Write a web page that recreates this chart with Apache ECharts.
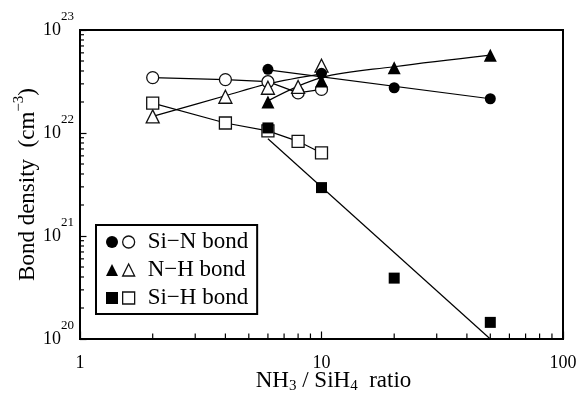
<!DOCTYPE html>
<html>
<head>
<meta charset="utf-8">
<script src="https://cdn.jsdelivr.net/npm/echarts@6/dist/echarts.min.js"></script>
<style>
  html, body { margin: 0; padding: 0; background: #fff; }
  #chart { width: 585px; height: 399px; }
</style>
</head>
<body>
<div id="chart"></div>
<script>
// NH3/SiH4 flow ratio for the two sample sets
const ratioOpen = [2, 4, 6, 8, 10];
const ratioFilled = [6, 10, 20, 50];

// Bond densities (cm^-3), open-symbol set
const siNOpen = [3.45e22, 3.3e22, 3.15e22, 2.45e22, 2.65e22];
const nHOpen = [1.45e22, 2.25e22, 2.75e22, 2.8e22, 4.5e22];
const siHOpen = [1.95e22, 1.25e22, 1.05e22, 8.3e21, 6.4e21];

// Bond densities (cm^-3), filled-symbol set
const siNFilled = [4.15e22, 3.8e22, 2.75e22, 2.15e22];
const nHFilled = [2.0e22, 3.2e22, 4.3e22, 5.7e22];
const siHFilled = [1.12e22, 2.95e21, 3.9e20, 1.45e20];

// Trend lines
const siNFitX = [6, 50];
const siNFitY = [4.1e22, 2.15e22];
const nHOpenFitX = [2, 4, 6, 10];
const nHOpenFitY = [1.45e22, 2.3e22, 3.0e22, 3.75e22];
const nHFitX = [6, 10, 20, 50];
const nHFitY = [2.05e22, 3.45e22, 4.4e22, 5.7e22];
const siHFitX = [6, 50];
const siHFitY = [8.8e21, 1.0e20];

// Legend labels
const bondNames = ['Si\u2212N bond', 'N\u2212H bond', 'Si\u2212H bond'];
const filledNames = ['Si\u2212N', 'N\u2212H', 'Si\u2212H'];

// Axis ranges and minor tick positions
const xRange = [1, 100];
const yRange = [1e20, 1e23];
const xMinorTicks = [2, 3, 4, 5, 6, 7, 8, 9, 20, 30, 40, 50, 60, 70, 80, 90];
const yMinorTicks = [];
[20, 21, 22].forEach(function (d) {
  for (let m = 2; m <= 9; m++) yMinorTicks.push(m * Math.pow(10, d));
});

const FONT = 'Liberation Serif';
const zip = (xs, ys) => xs.map((x, i) => [x, ys[i]]);

const openStyle = { color: '#fff', borderColor: '#111', borderWidth: 1.3, opacity: 1 };
const filledStyle = { color: '#000', opacity: 1 };

function trend(xs, ys, smooth) {
  return {
    type: 'line', data: zip(xs, ys), symbol: 'none', smooth: smooth || false,
    lineStyle: { color: '#000', width: 1.2 }, silent: true, z: 2
  };
}

// Minor ticks (2..9 of each decade) drawn inward from the axis
function tickSeries(data, horizontal, len) {
  return {
    type: 'custom', coordinateSystem: 'cartesian2d', clip: false, z: 5,
    data: data,
    renderItem: function (params, api) {
      const p = api.coord([api.value(0), api.value(1)]);
      return {
        type: 'line',
        shape: horizontal
          ? { x1: p[0], y1: p[1], x2: p[0] + len, y2: p[1] }
          : { x1: p[0], y1: p[1], x2: p[0], y2: p[1] - len },
        style: { stroke: '#000', lineWidth: 1.2 }
      };
    }
  };
}

const chart = echarts.init(document.getElementById('chart'), null, { renderer: 'canvas' });

chart.setOption({
  animation: false,
  backgroundColor: '#fff',
  textStyle: { fontFamily: FONT, color: '#000' },
  grid: {
    left: 80, right: 22, top: 30, bottom: 60, show: true,
    outerBoundsMode: 'none', containLabel: false,
    borderColor: '#000', borderWidth: 2, backgroundColor: 'transparent'
  },
  xAxis: {
    type: 'log', logBase: 10, min: xRange[0], max: xRange[1],
    axisLine: { show: true, lineStyle: { color: '#000', width: 2 } },
    splitLine: { show: false },
    axisTick: { show: true, inside: true, length: 7.5, lineStyle: { color: '#000', width: 1.2 } },
    axisLabel: { fontFamily: FONT, fontSize: 18, color: '#000', margin: 15 },
    name: 'NH{sub|3} / SiH{sub|4}  ratio',
    nameLocation: 'middle', nameGap: 28, nameMoveOverlap: false,
    nameTextStyle: {
      fontFamily: FONT, fontSize: 23, color: '#000', padding: [0, 0, 0, 24],
      rich: { sub: { fontFamily: FONT, fontSize: 15, color: '#000', padding: [12, 0, 0, 0] } }
    }
  },
  yAxis: {
    type: 'log', logBase: 10, min: yRange[0], max: yRange[1],
    axisLine: { show: true, lineStyle: { color: '#000', width: 2 } },
    splitLine: { show: false },
    axisTick: { show: true, inside: true, length: 6.5, lineStyle: { color: '#000', width: 1.2 } },
    axisLabel: {
      margin: 6,
      formatter: function (v) { return '{b|10}{e|' + Math.round(Math.log10(v)) + '}'; },
      rich: {
        b: { fontFamily: FONT, fontSize: 18, color: '#000' },
        e: { fontFamily: FONT, fontSize: 13, color: '#000', padding: [0, 0, 26, 0] }
      }
    },
    name: 'Bond density  (cm{sup|\u22123})',
    nameLocation: 'middle', nameGap: 37, nameMoveOverlap: false,
    nameTextStyle: {
      fontFamily: FONT, fontSize: 23, color: '#000',
      rich: { sup: { fontFamily: FONT, fontSize: 15, color: '#000', padding: [0, 0, 16, 0] } }
    }
  },
  legend: [
    {
      data: bondNames.map(function (n) { return { name: n, itemStyle: openStyle }; }),
      orient: 'vertical', left: 96, top: 225, padding: [5, 9, 4, 26],
      itemWidth: 12, itemHeight: 12, itemGap: 4,
      borderColor: '#000', borderWidth: 2, backgroundColor: '#fff',
      selectedMode: false,
      textStyle: { fontFamily: FONT, fontSize: 23, lineHeight: 24, color: '#000', padding: [0, 0, 0, 8] }
    },
    {
      data: filledNames.map(function (n) { return { name: n, itemStyle: filledStyle }; }),
      orient: 'vertical', left: 106, top: 230, padding: 0,
      itemWidth: 12, itemHeight: 12, itemGap: 4,
      selectedMode: false,
      formatter: function () { return ' '; },
      textStyle: { fontFamily: FONT, fontSize: 23, lineHeight: 24, color: '#000' }
    }
  ],
  series: [
    trend(ratioOpen, siNOpen),
    trend(ratioOpen, siHOpen),
    trend(siNFitX, siNFitY),
    trend(nHOpenFitX, nHOpenFitY, 0.35),
    trend(nHFitX, nHFitY, 0.35),
    trend(siHFitX, siHFitY),
    tickSeries(xMinorTicks.map(function (v) { return [v, yRange[0]]; }), false, 5.5),
    tickSeries(yMinorTicks.map(function (v) { return [xRange[0], v]; }), true, 4),
    { name: bondNames[0], type: 'scatter', data: zip(ratioOpen, siNOpen), symbol: 'circle', symbolSize: 12, itemStyle: openStyle, z: 3 },
    { name: bondNames[1], type: 'scatter', data: zip(ratioOpen, nHOpen), symbol: 'triangle', symbolSize: 13, itemStyle: openStyle, z: 3 },
    { name: bondNames[2], type: 'scatter', data: zip(ratioOpen, siHOpen), symbol: 'rect', symbolSize: 12, itemStyle: openStyle, z: 3 },
    { name: filledNames[0], type: 'scatter', data: zip(ratioFilled, siNFilled), symbol: 'circle', symbolSize: 11, itemStyle: filledStyle, z: 4 },
    { name: filledNames[1], type: 'scatter', data: zip(ratioFilled, nHFilled), symbol: 'triangle', symbolSize: 13, itemStyle: filledStyle, z: 4 },
    { name: filledNames[2], type: 'scatter', data: zip(ratioFilled, siHFilled), symbol: 'rect', symbolSize: 11, itemStyle: filledStyle, z: 4 }
  ]
});
</script>
</body>
</html>
